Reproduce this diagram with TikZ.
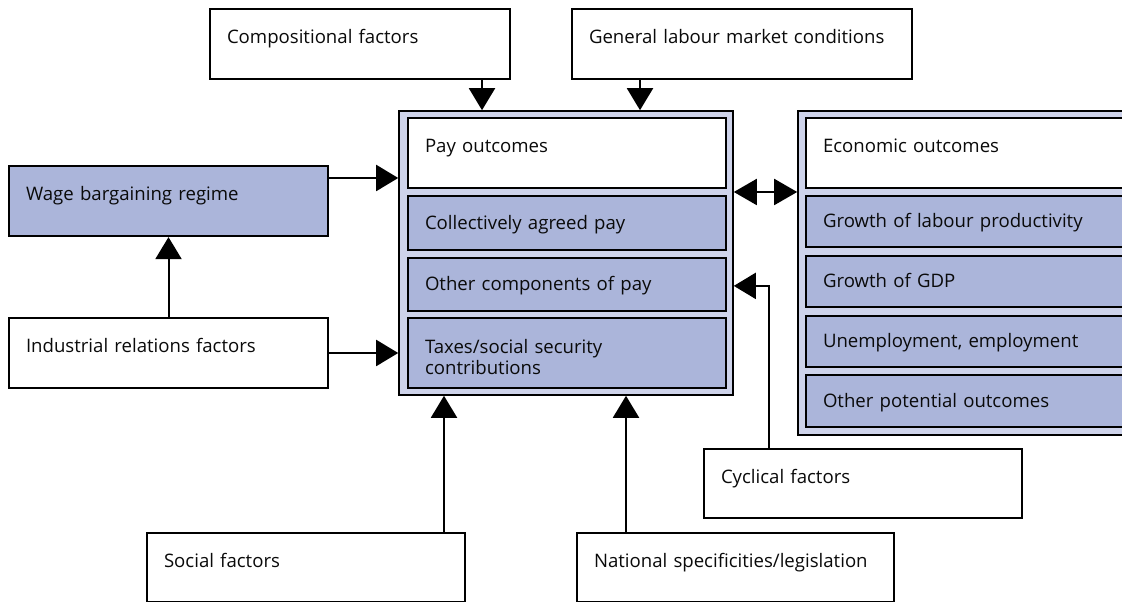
\documentclass[tikz,border=0pt]{standalone}
\usepackage{fontspec}
\setmainfont{Open Sans}
\usetikzlibrary{arrows.meta,calc}
\definecolor{boxblue}{HTML}{ABB5DA}
\definecolor{frameblue}{HTML}{CED3EA}
\definecolor{txt}{HTML}{0A0A0A}
\begin{document}
\begin{tikzpicture}[x=1pt,y=1pt,
  basebox/.style={draw=black, line width=2.2pt, inner xsep=17pt, inner ysep=0pt,
    align=left, text=txt, font=\fontsize{18.6}{21.5}\selectfont},
  headbox/.style={basebox, fill=white, text height=15pt, text depth=15pt},
  subbox/.style={basebox, fill=boxblue, text height=13pt, text depth=0pt},
  frame/.style={draw=black, line width=1.6pt, fill=frameblue, inner sep=0pt},
  arr/.style={line width=2pt, -{Triangle[length=22pt,width=26pt]}},
  dbl/.style={line width=2pt, {Triangle[length=23pt,width=26pt]}-{Triangle[length=23pt,width=26pt]}}
]
\useasboundingbox (0,0) rectangle (1122,602);
\clip (0,0) rectangle (1122,602);

% top boxes
\node[headbox, text width=266pt, minimum height=70pt] (comp) at (360,558) {Compositional factors};
\node[headbox, text width=306pt, minimum height=70pt] (gen) at (742,558) {General labour market conditions};

% left boxes
\node[headbox, fill=boxblue, text width=285pt, minimum height=70pt] (wage) at (168.5,401) {Wage bargaining regime};
\node[headbox, text width=285pt, minimum height=70pt] (ir) at (168.5,249) {Industrial relations factors};

% bottom boxes
\node[headbox, text width=284pt, minimum height=69pt] (social) at (306,34.5) {Social factors};
\node[headbox, text width=283pt, minimum height=69pt] (national) at (735.5,34.5) {National specificities/legislation};
\node[headbox, text width=284pt, minimum height=69pt] (cyc) at (863,118.5) {Cyclical factors};

% pay outcomes group
\node[frame, minimum width=334pt, minimum height=284pt] (pay) at (566,349) {};
\node[headbox, text width=284pt, minimum height=70pt] (payhead) at (567,449) {Pay outcomes};
\node[subbox, text width=284pt, minimum height=54pt] (collective) at (567,379) {Collectively agreed pay};
\node[subbox, text width=284pt, minimum height=53pt] (othercomp) at (567,317.5) {Other components of pay};
\node[basebox, fill=boxblue, text width=284pt, minimum height=70pt] (taxes) at (567,249) {\rule{0pt}{22pt}Taxes/social security\\contributions};

% economic outcomes group
\node[frame, minimum width=352pt, minimum height=324pt] (econ) at (974,329) {};
\node[headbox, text width=303pt, minimum height=70pt] (econhead) at (974.5,449) {Economic outcomes};
\node[subbox, text width=303pt, minimum height=51pt] (glp) at (974.5,380.5) {Growth of labour productivity};
\node[subbox, text width=303pt, minimum height=51pt] (gdp) at (974.5,320.5) {Growth of GDP};
\node[subbox, text width=303pt, minimum height=51pt] (unemp) at (974.5,260.5) {Unemployment, employment};
\node[subbox, text width=303pt, minimum height=52pt] (otherpot) at (974.5,201) {Other potential outcomes};

% connectors
\coordinate (a1) at ($(comp.south)+(122,0)$);
\draw[arr] (a1) -- (a1 |- pay.north);
\coordinate (a2) at ($(gen.south)+(-102,0)$);
\draw[arr] (a2) -- (a2 |- pay.north);
\coordinate (a3) at ($(wage.east)+(0,23)$);
\draw[arr] (a3) -- (a3 -| pay.west);
\draw[arr] (ir.east) -- (ir.east -| pay.west);
\draw[arr] (ir.north) -- (wage.south);
\coordinate (a4) at ($(social.north)+(138,0)$);
\draw[arr] (a4) -- (a4 |- pay.south);
\coordinate (a5) at ($(national.north)+(-109.5,0)$);
\draw[arr] (a5) -- (a5 |- pay.south);
\coordinate (a6) at ($(cyc.north)+(-94,0)$);
\coordinate (a7) at ($(a6)+(0,162)$);
\draw[arr] (a6) -- (a7) -- (a7 -| pay.east);
\coordinate (a8) at ($(pay.east)+(0,61)$);
\draw[dbl] (a8) -- (a8 -| econ.west);
\end{tikzpicture}
\end{document}
